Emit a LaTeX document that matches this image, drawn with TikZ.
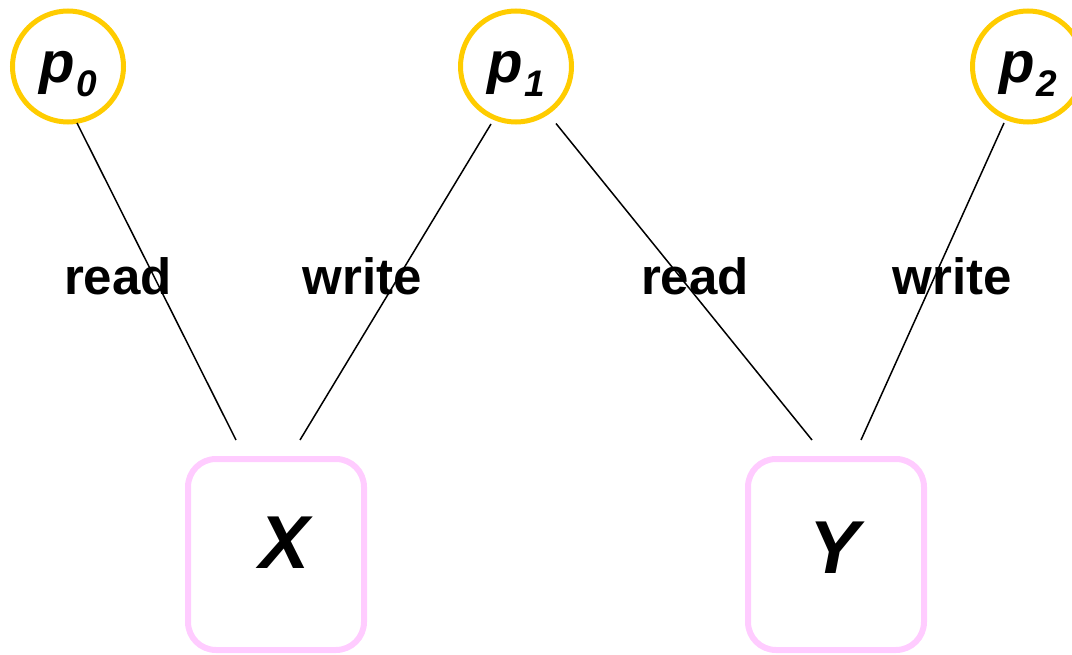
\documentclass[tikz,border=0pt]{standalone}
\usepackage{fontspec}
\setmainfont{Liberation Sans}
\definecolor{procyellow}{HTML}{FFCC00}
\definecolor{regpink}{HTML}{FFCCFF}
\begin{document}
\begin{tikzpicture}[x=1pt,y=-1pt,
  proc/.style={circle,draw=procyellow,line width=5pt,minimum size=111pt,inner sep=0pt,
    font=\bfseries\itshape\fontsize{58}{58}\selectfont},
  reg/.style={draw=regpink,line width=6pt,rounded corners=28pt,minimum width=176pt,minimum height=191pt,inner sep=0pt},
  regname/.style={anchor=base,inner sep=0pt,font=\bfseries\itshape\fontsize{75}{75}\selectfont},
  oplabel/.style={anchor=base,inner sep=0pt,font=\bfseries\fontsize{51}{51}\selectfont},
  access/.style={draw=black,line width=1.5pt}]
\useasboundingbox (0,0) rectangle (1072,655);
% process name: baseline below the circle centre, index set lower and smaller
\newcommand{\procname}[1]{\raisebox{-16pt}[0pt][0pt]{p\kern1.5pt\raisebox{-14pt}{\fontsize{37}{37}\selectfont #1}}}
% processes
\node[proc] (p0) at (68,66.5) {\procname{0}};
\node[proc] (p1) at (516,66.5) {\procname{1}};
\node[proc] (p2) at (1028,66.5) {\procname{2}};
% registers
\node[reg] (X) at (276,554.5) {};
\node[reg] (Y) at (836,554.5) {};
\node[regname] (Xt) at (285,568) {X};
\node[regname] (Yt) at (835,573) {Y};
% accesses
\draw[access] ([xshift=9pt,yshift=-56.5pt]p0.center) -- ([xshift=-40pt,yshift=16pt]X.north);
\draw[access] ([xshift=-25pt,yshift=-57.5pt]p1.center) -- ([xshift=24pt,yshift=16pt]X.north);
\draw[access] ([xshift=40pt,yshift=-57pt]p1.center) -- ([xshift=-24pt,yshift=16pt]Y.north);
\draw[access] ([xshift=-24pt,yshift=-56.5pt]p2.center) -- ([xshift=25pt,yshift=16pt]Y.north);
% operation labels
\node[oplabel] (r0) at (118,295) {read};
\node[oplabel] (w1) at (362.5,295) {write};
\node[oplabel] (r1) at (695,295) {read};
\node[oplabel] (w2) at (952.5,295) {write};
\end{tikzpicture}
\end{document}
